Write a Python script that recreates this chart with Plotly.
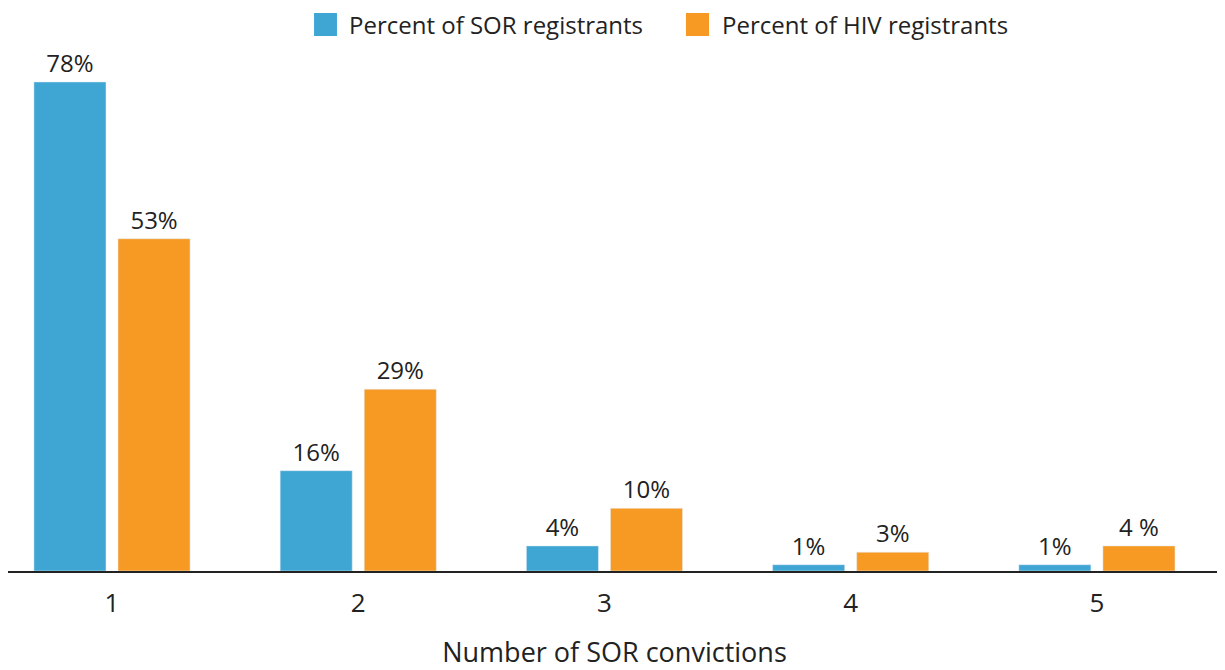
import plotly.graph_objects as go

convictions = [1, 2, 3, 4, 5]
sor_pct = [78, 16, 4, 1, 1]
hiv_pct = [53, 29, 10, 3, 4]
sor_labels = ["78%", "16%", "4%", "1%", "1%"]
hiv_labels = ["53%", "29%", "10%", "3%", "4 %"]
series_names = ["Percent of SOR registrants", "Percent of HIV registrants"]
colors = ["#3FA6D4", "#F79A23"]

fig = go.Figure()
fig.add_trace(go.Bar(x=convictions, y=sor_pct, name=series_names[0],
                     marker_color=colors[0], text=sor_labels, textposition="outside",
                     cliponaxis=False))
fig.add_trace(go.Bar(x=convictions, y=hiv_pct, name=series_names[1],
                     marker_color=colors[1], text=hiv_labels, textposition="outside",
                     cliponaxis=False))
fig.update_traces(textfont=dict(size=24, color="#222222"))

# legend drawn by hand so the swatches can be large squares
swatch_x = [(0.2523, 0.2712), (0.5589, 0.5779)]
label_x = [0.2795, 0.5870]
for (x0, x1), lx, name, c in zip(swatch_x, label_x, series_names, colors):
    fig.add_shape(type="rect", xref="paper", yref="paper", x0=x0, x1=x1,
                  y0=1.0269, y1=1.0710, fillcolor=c, line_width=0)
    fig.add_annotation(xref="paper", yref="paper", x=lx, y=1.0499, text=name,
                       showarrow=False, xanchor="left", yanchor="middle",
                       font=dict(size=24, color="#222222"))

# the page body adds an 8px margin top/left, so the figure is sized for what's left
fig.update_layout(
    width=1217, height=662,
    plot_bgcolor="white", paper_bgcolor="white",
    font=dict(family="Open Sans", color="#222222"),
    barmode="group", bargap=0.317, bargroupgap=0.143,
    showlegend=False,
    margin=dict(l=0, r=4, t=42, b=99, autoexpand=False),
    xaxis=dict(range=[0.5776, 5.504], tickvals=convictions, showline=True,
               linecolor="#222222", linewidth=1.5, tickfont=dict(size=26),
               ticks="outside", ticklen=8, tickcolor="white",
               title=dict(text="Number of SOR convictions", font=dict(size=27), standoff=43)),
    yaxis=dict(range=[0, 83.1], visible=False),
)

fig.write_html("out.html")
